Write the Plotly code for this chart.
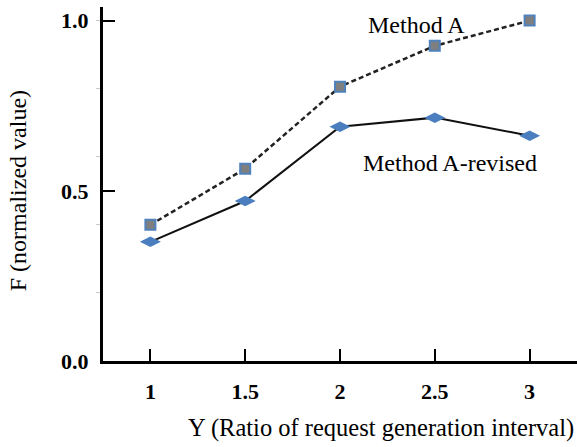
import plotly.graph_objects as go

# values
ratio = [1, 1.5, 2, 2.5, 3]
method_a = [0.40, 0.565, 0.806, 0.926, 1.0]
method_a_revised = [0.35, 0.47, 0.688, 0.715, 0.662]
x_ticks = [1, 1.5, 2, 2.5, 3]
x_ticklabels = ["1", "1.5", "2", "2.5", "3"]
y_ticks = [0.0, 0.5, 1.0]
y_ticklabels = ["0.0", "0.5", "1.0"]

SERIF = "Liberation Serif, Times New Roman, serif"

fig = go.Figure()

fig.add_trace(
    go.Scatter(
        x=ratio,
        y=method_a,
        mode="lines+markers",
        name="Method A",
        line=dict(color="#222222", width=2.5, dash="5px,3px"),
        marker=dict(
            symbol="square",
            size=10,
            color="#7f7f7f",
            line=dict(color="#4f81bd", width=2),
        ),
    )
)
fig.add_trace(
    go.Scatter(
        x=ratio,
        y=method_a_revised,
        mode="lines+markers",
        name="Method A-revised",
        line=dict(color="#111111", width=2),
        marker=dict(
            symbol="diamond-wide",
            size=15,
            color="#4a7ebf",
            line=dict(color="#4a7ebf", width=0),
        ),
    )
)

# series labels placed on the plot
fig.add_annotation(
    text="Method A", x=0.661, y=0.95, xref="paper", yref="paper",
    xanchor="center", yanchor="middle",
    showarrow=False, font=dict(family=SERIF, size=24, color="black"),
)
fig.add_annotation(
    text="Method A-revised", x=0.732, y=0.56, xref="paper", yref="paper",
    xanchor="center", yanchor="middle",
    showarrow=False, font=dict(family=SERIF, size=24, color="black"),
)

# axis titles
fig.add_annotation(
    text="Y (Ratio of request generation interval)", x=0.997, y=-0.19,
    xref="paper", yref="paper", xanchor="right", yanchor="middle",
    showarrow=False,
    font=dict(family=SERIF, size=24.5, color="black"),
)
fig.add_annotation(
    text="F (normalized value)", x=-0.179, y=0.48, xref="paper", yref="paper",
    xanchor="center", yanchor="middle",
    textangle=-90, showarrow=False,
    font=dict(family=SERIF, size=24, color="black"),
)

fig.update_xaxes(
    range=[0.75, 3.25],
    tickvals=x_ticks,
    ticktext=x_ticklabels,
    ticks="inside",
    ticklen=12,
    tickwidth=2,
    tickcolor="black",
    ticklabelstandoff=9,
    showline=True,
    linewidth=3,
    linecolor="black",
    showgrid=False,
    zeroline=False,
    tickfont=dict(family=SERIF, size=22, color="black", weight="bold"),
)
fig.update_yaxes(
    range=[0, 1.04],
    tickvals=y_ticks,
    ticktext=y_ticklabels,
    ticks="inside",
    ticklen=12,
    tickwidth=2,
    tickcolor="black",
    ticklabelstandoff=7,
    minor=dict(ticks="outside", dtick=0.2, tick0=0, ticklen=4, tickwidth=1, tickcolor="#c8c8c8"),
    showline=True,
    linewidth=3,
    linecolor="black",
    showgrid=False,
    zeroline=False,
    tickfont=dict(family=SERIF, size=22, color="black", weight="bold"),
)

fig.update_layout(
    width=577,
    height=447,
    margin=dict(l=103, r=0, t=7, b=86),
    paper_bgcolor="white",
    plot_bgcolor="white",
    showlegend=False,
)

# drop the default page margin so the figure sits at the window's corner
fig.write_html(
    "out.html",
    config={"displayModeBar": False},
    post_script="document.body.style.margin='0';document.body.style.overflow='hidden';",
)
